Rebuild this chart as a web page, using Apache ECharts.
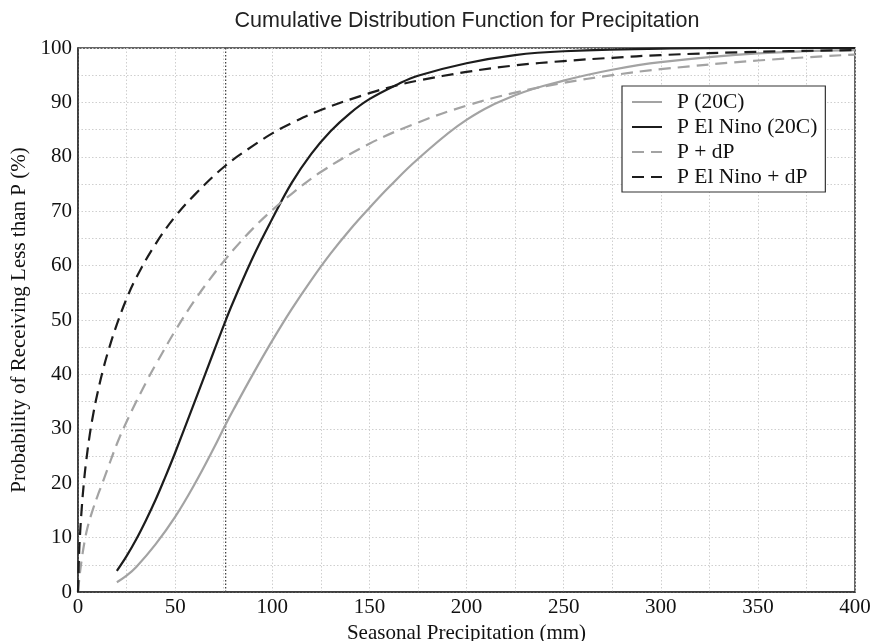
<!DOCTYPE html>
<html>
<head>
<meta charset="utf-8">
<script src="https://cdn.jsdelivr.net/npm/echarts@6/dist/echarts.min.js"></script>
<style>html,body{margin:0;padding:0;background:#fff}#c{width:872px;height:641px}</style>
</head>
<body>
<div id="c"></div>
<script>
const titleText = 'Cumulative Distribution Function for Precipitation';
const xAxisName = 'Seasonal Precipitation (mm)';
const yAxisName = 'Probability of Receiving Less than P (%)';
const seriesNames = ['P (20C)', 'P El Nino (20C)', 'P + dP', 'P El Nino + dP'];

const p20X = [20,25,30,40,50,60,70,76,80,90,100,110,120,130,140,150,160,175,200,225,250,275,300,350,400];
const p20Y = [1.8,3.0,4.6,8.8,13.8,19.8,26.5,30.8,33.5,40.0,46.2,52.0,57.3,62.2,66.6,70.6,74.4,79.6,86.8,91.3,94.0,96.0,97.4,99.0,99.6];

const elX = [20,25,30,35,40,45,50,60,70,76,80,90,100,110,120,130,140,150,165,175,200,225,250,300,350,400];
const elY = [3.9,6.6,9.7,13.2,17.0,21.2,25.6,34.9,44.3,49.9,53.4,61.5,68.6,75.2,80.5,84.7,88.0,90.6,93.4,94.9,97.2,98.7,99.4,99.9,100,100];

const dpX = [0,1,2,3.5,5,7.5,10,12,15,20,25,30,36,40,50,60,70,76,80,90,100,110,125,150,175,200,225,250,275,300,350,400];
const dpY = [0,3.5,6.2,9.5,12.0,15.0,17.6,19.5,22.4,27.2,31.3,35.0,39.2,41.8,48.0,53.6,58.5,61.2,62.9,66.8,70.2,73.2,77.2,82.4,86.3,89.4,91.8,93.6,95.0,96.1,97.7,98.8];

const elDpX = [0,0.5,1,2,3,4,6,8,10,13,16,20,25,30,40,50,60,76,90,100,110,125,150,165,175,200,225,250,275,300,350,400];
const elDpY = [0,6.5,10.3,15.8,20.0,23.4,28.8,33.0,36.5,41.0,44.8,49.2,53.9,57.8,64.0,69.0,73.0,78.4,82.0,84.3,86.2,88.6,91.7,93.2,94.0,95.6,96.8,97.6,98.2,98.7,99.3,99.6];

const refLineX = [76];
const xTicks = [0,50,100,150,200,250,300,350,400];
const yTicks = [0,10,20,30,40,50,60,70,80,90,100];

const pair = (xs, ys) => xs.map((x, i) => [x, ys[i]]);

const GRAY = '#a3a3a3';
const BLACK = '#1c1c1c';
const SERIF = '"Liberation Serif", "DejaVu Serif", serif';

function lineSeries(name, data, color, dashed) {
  return {
    name, type: 'line', data,
    symbol: 'none', smooth: 0.4,
    lineStyle: { color, width: 2.2, type: dashed ? [12, 7] : 'solid', cap: 'butt' },
    itemStyle: { color },
    z: 3
  };
}

const chart = echarts.init(document.getElementById('c'), null, { renderer: 'canvas' });
chart.setOption({
  animation: false,
  backgroundColor: '#fff',
  title: {
    text: titleText,
    left: 462, top: 5, textAlign: 'center',
    textStyle: { fontFamily: '"Liberation Sans", Arial, sans-serif', fontSize: 21.5, fontWeight: 'normal', color: '#222' }
  },
  grid: { left: 78, right: 17, top: 48, bottom: 49, show: true, borderColor: '#333', borderWidth: 1.5,
    backgroundColor: 'transparent', containLabel: false, outerBoundsMode: 'none' },
  legend: {
    orient: 'vertical', left: 622, top: 86,
    padding: [5, 8, 4, 9], itemGap: 3, itemWidth: 30, itemHeight: 14,
    backgroundColor: '#fff', borderColor: '#333', borderWidth: 1.2, borderRadius: 0,
    itemStyle: { opacity: 0 },
    textStyle: { fontFamily: SERIF, fontSize: 21.5, color: '#111', padding: [0, 0, 0, 10] },
    data: seriesNames
  },
  xAxis: {
    type: 'value', min: 0, max: 400, interval: 50,
    name: xAxisName, nameLocation: 'middle', nameGap: 30,
    nameTextStyle: { fontFamily: SERIF, fontSize: 21, color: '#111' },
    axisLine: { show: true, lineStyle: { color: '#333', width: 1.5 } },
    axisTick: { show: false },
    axisLabel: { fontFamily: SERIF, fontSize: 21, color: '#111', margin: 5,
      formatter: v => xTicks.includes(v) ? String(v) : '' },
    splitLine: { show: true, lineStyle: { color: '#cfcfcf', type: [1.5, 2], width: 1 } },
    minorTick: { show: false, splitNumber: 2 },
    minorSplitLine: { show: true, lineStyle: { color: '#cfcfcf', type: [1.5, 2], width: 1 } }
  },
  yAxis: {
    type: 'value', min: 0, max: 100, interval: 10,
    name: yAxisName, nameLocation: 'middle', nameGap: 47,
    nameTextStyle: { fontFamily: SERIF, fontSize: 21, color: '#111' },
    axisLine: { show: true, lineStyle: { color: '#333', width: 1.5 } },
    axisTick: { show: false },
    axisLabel: { fontFamily: SERIF, fontSize: 21, color: '#111', margin: 6,
      formatter: v => yTicks.includes(v) ? String(v) : '' },
    splitLine: { show: true, lineStyle: { color: '#cfcfcf', type: [1.5, 2], width: 1 } },
    minorTick: { show: false, splitNumber: 2 },
    minorSplitLine: { show: true, lineStyle: { color: '#cfcfcf', type: [1.5, 2], width: 1 } }
  },
  series: [
    lineSeries(seriesNames[0], pair(p20X, p20Y), GRAY, false),
    lineSeries(seriesNames[1], pair(elX, elY), BLACK, false),
    lineSeries(seriesNames[2], pair(dpX, dpY), GRAY, true),
    lineSeries(seriesNames[3], pair(elDpX, elDpY), BLACK, true),
    {
      name: 'ref', type: 'line', data: [[refLineX[0], 0], [refLineX[0], 100]],
      symbol: 'none', lineStyle: { color: '#444', width: 1.3, type: [1.5, 2] }, z: 2,
      silent: true
    }
  ]
});
</script>
</body>
</html>
